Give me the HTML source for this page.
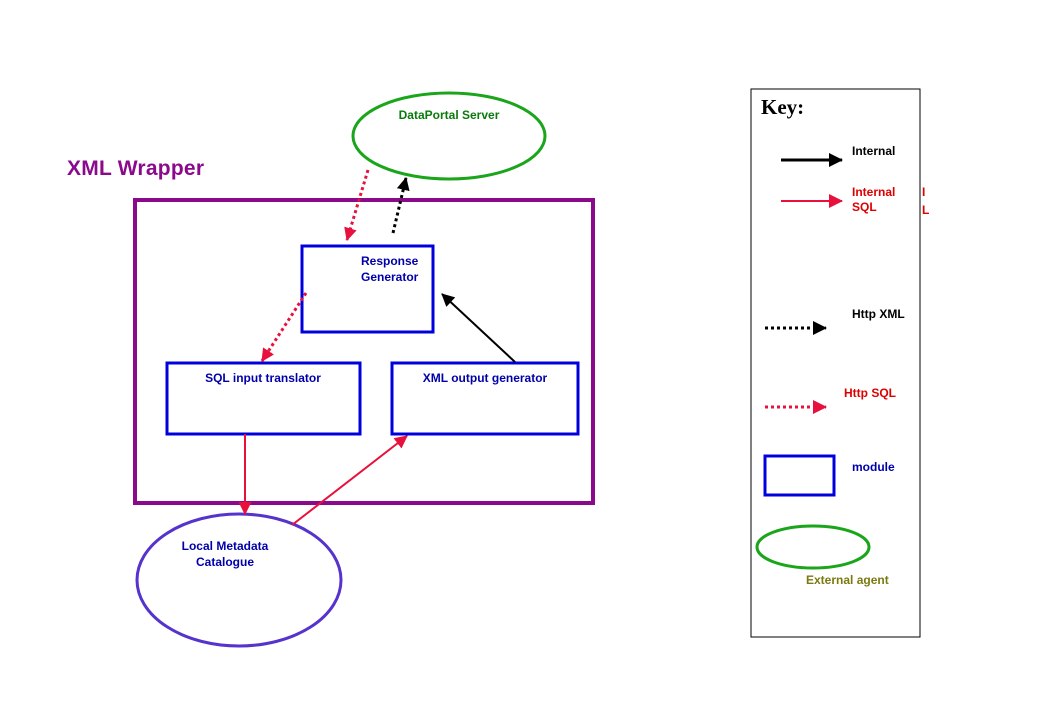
<!DOCTYPE html>
<html><head><meta charset="utf-8"><style>
body{margin:0;background:#fff;}
svg text{font-family:"Liberation Sans",Arial,sans-serif;font-weight:bold;}
</style></head><body>
<svg width="1039" height="719" xmlns="http://www.w3.org/2000/svg">
<defs>
<marker id="ar" markerWidth="14" markerHeight="14" refX="12" refY="6.5" orient="auto" markerUnits="userSpaceOnUse"><path d="M0,0 L13,6.5 L0,13 z" fill="#e8103c"/></marker>
<marker id="ab" markerWidth="14" markerHeight="14" refX="12" refY="6.5" orient="auto" markerUnits="userSpaceOnUse"><path d="M0,0 L13,6.5 L0,13 z" fill="#000"/></marker>
<marker id="arL" markerWidth="14" markerHeight="14" refX="13" refY="7" orient="auto" markerUnits="userSpaceOnUse"><path d="M0,0 L14,7 L0,14 z" fill="#e8103c"/></marker>
<marker id="abL" markerWidth="14" markerHeight="14" refX="13" refY="7" orient="auto" markerUnits="userSpaceOnUse"><path d="M0,0 L14,7 L0,14 z" fill="#000"/></marker>
</defs>
<text x="67" y="175" font-size="21" fill="#8b0a8b" textLength="137" lengthAdjust="spacing">XML Wrapper</text>
<rect x="135" y="200" width="458" height="303" fill="none" stroke="#8b0a8b" stroke-width="4"/>
<ellipse cx="449" cy="136" rx="96" ry="43" fill="none" stroke="#1aa51a" stroke-width="3"/>
<text x="449" y="119" font-size="12" fill="#0a7a0a" text-anchor="middle">DataPortal Server</text>
<ellipse cx="239" cy="580" rx="102" ry="66" fill="none" stroke="#5533cc" stroke-width="3"/>
<text x="225" y="550" font-size="12" fill="#0000aa" text-anchor="middle">Local Metadata</text>
<text x="225" y="566" font-size="12" fill="#0000aa" text-anchor="middle">Catalogue</text>
<rect x="302" y="246" width="131" height="86" fill="#fff" stroke="#0000dd" stroke-width="3"/>
<text x="361" y="265" font-size="12" fill="#0000aa">Response</text>
<text x="361" y="281" font-size="12" fill="#0000aa">Generator</text>
<rect x="167" y="363" width="193" height="71" fill="#fff" stroke="#0000dd" stroke-width="3"/>
<text x="263" y="382" font-size="12" fill="#0000aa" text-anchor="middle">SQL input translator</text>
<rect x="392" y="363" width="186" height="71" fill="#fff" stroke="#0000dd" stroke-width="3"/>
<text x="485" y="382" font-size="12" fill="#0000aa" text-anchor="middle">XML output generator</text>
<line x1="368" y1="170" x2="347" y2="240" stroke="#e8103c" stroke-width="3" stroke-dasharray="3,3" marker-end="url(#ar)"/>
<line x1="393" y1="233" x2="406" y2="178" stroke="#000" stroke-width="3" stroke-dasharray="3,3" marker-end="url(#ab)"/>
<line x1="306" y1="293" x2="262" y2="361" stroke="#e8103c" stroke-width="3" stroke-dasharray="3,3" marker-end="url(#ar)"/>
<line x1="515" y1="362" x2="442" y2="294" stroke="#000" stroke-width="2" marker-end="url(#ab)"/>
<line x1="245" y1="434" x2="245" y2="514" stroke="#e8103c" stroke-width="2" marker-end="url(#ar)"/>
<line x1="292" y1="525" x2="407" y2="436" stroke="#e8103c" stroke-width="2" marker-end="url(#ar)"/>
<rect x="751" y="89" width="169" height="548" fill="none" stroke="#000" stroke-width="1"/>
<text x="761" y="114" font-size="21" fill="#000" style="font-family:'Liberation Serif',serif">Key:</text>
<line x1="781" y1="160" x2="842" y2="160" stroke="#000" stroke-width="3" marker-end="url(#abL)"/>
<text x="852" y="155" font-size="12" fill="#000">Internal</text>
<line x1="781" y1="201" x2="842" y2="201" stroke="#e8103c" stroke-width="2" marker-end="url(#arL)"/>
<text x="852" y="196" font-size="12" fill="#dd0000">Internal</text>
<text x="852" y="211" font-size="12" fill="#dd0000">SQL</text>
<text x="922" y="196" font-size="12" fill="#dd0000">I</text>
<text x="922" y="214" font-size="12" fill="#dd0000">L</text>
<line x1="765" y1="328" x2="826" y2="328" stroke="#000" stroke-width="3" stroke-dasharray="3,3" marker-end="url(#abL)"/>
<text x="852" y="318" font-size="12" fill="#000">Http XML</text>
<line x1="765" y1="407" x2="826" y2="407" stroke="#e8103c" stroke-width="3" stroke-dasharray="3,3" marker-end="url(#arL)"/>
<text x="844" y="397" font-size="12" fill="#dd0000">Http SQL</text>
<rect x="765" y="456" width="69" height="39" fill="none" stroke="#0000dd" stroke-width="3"/>
<text x="852" y="471" font-size="12" fill="#0000aa">module</text>
<ellipse cx="813" cy="547" rx="56" ry="21" fill="none" stroke="#1aa51a" stroke-width="3"/>
<text x="806" y="584" font-size="12" fill="#7a7a10">External agent</text>
</svg>
</body></html>
